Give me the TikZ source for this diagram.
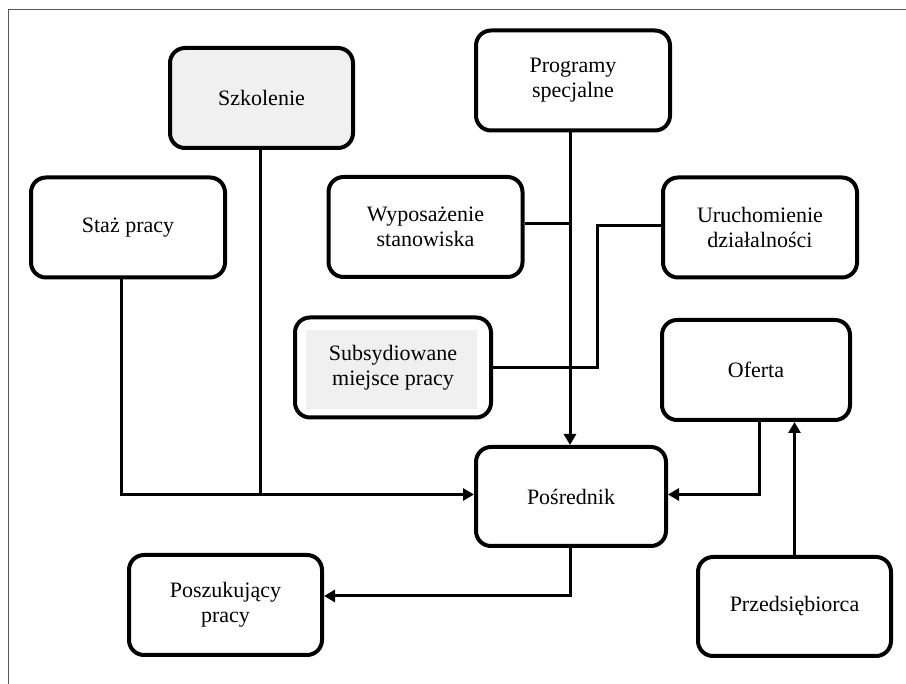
\documentclass[tikz,border=0pt]{standalone}
\usepackage{fontspec}
\setmainfont{Liberation Serif}
\usetikzlibrary{arrows.meta}

\tikzset{
  blok/.style={draw, line width=4pt, rounded corners=15pt, minimum width=190pt,
    minimum height=100pt, inner sep=0pt, align=center,
    font=\fontsize{22}{25}\selectfont},
  linia/.style={line width=3pt},
  strz/.style={linia, -{Triangle[length=11pt,width=12pt]}},
}

\begin{document}
\begin{tikzpicture}[x=1pt, y=-1pt]
        \useasboundingbox (0,0) rectangle (906,684);
        % ramka
        \draw[gray!70!black, line width=1pt] (8.5,9.5) rectangle (930,700);

        % bloki
        \node[blok, fill=black!6, minimum width=183pt] (szkolenie) at (261.5,98) {Szkolenie};
        \node[blok, minimum width=194pt] (programy) at (573,80.5) {Programy\\specjalne};
        \node[blok, minimum width=194pt] (staz) at (128,227.5) {Staż pracy};
        \node[blok, minimum width=194pt] (wypos) at (425.5,227) {Wyposażenie\\stanowiska};
        \node[blok, minimum width=194pt] (uruch) at (760,227.5) {Uruchomienie\\działalności};
        \fill[black!6] (306,330) rectangle (477,409);
        \node[blok, minimum width=196pt] (subs) at (393,367.5) {Subsydiowane\\miejsce pracy};
        \node[blok, minimum width=188pt] (oferta) at (756,370) {Oferta};
        \node[blok, minimum height=99pt] (posrednik) at (571,496.5) {Pośrednik};
        \node[blok, minimum width=193pt] (poszuk) at (225.5,605) {Poszukujący\\pracy};
        \node[blok, minimum width=193pt, minimum height=99pt] (przeds) at (794.5,606.5) {Przedsiębiorca};

        % polaczenia
        \coordinate (zalom) at (597,0);
        \draw[linia] ([xshift=-1.5pt]szkolenie.south) -- ([xshift=-1.5pt]szkolenie.south |- posrednik.west);
        \draw[strz] ([xshift=-7pt]staz.south) |- ([yshift=2pt]posrednik.west);
        \draw[strz] ([xshift=-3pt]programy.south) -- ([xshift=-3pt]programy.south |- posrednik.north);
        \draw[linia] ([yshift=3pt]wypos.east) -- ([xshift=-3pt,yshift=3pt]wypos.east -| programy.south);
        \draw[linia] ([yshift=2pt]uruch.west) -- ([yshift=2pt]uruch.west -| zalom)
            -- (zalom |- subs.east) -- (subs.east);
        \draw[strz] ([xshift=3pt]oferta.south) |- ([yshift=2pt]posrednik.east);
        \draw[strz] (przeds.north) -- (przeds.north |- oferta.south);
        \draw[strz] ([xshift=-1pt]posrednik.south) |- ([yshift=9pt]poszuk.east);

    \end{tikzpicture}
\end{document}
